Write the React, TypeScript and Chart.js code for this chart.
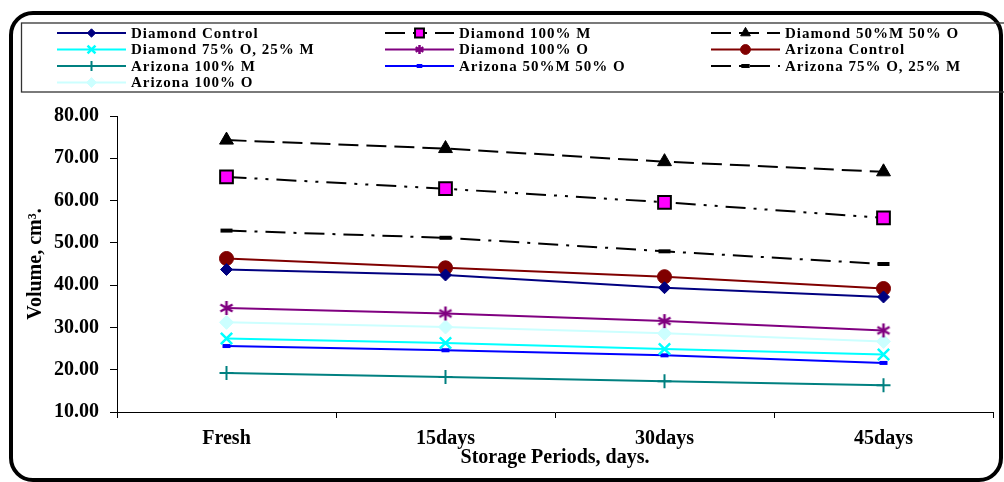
import React, { useEffect, useRef } from 'react';
import { Chart, registerables } from 'chart.js';
import { drawPoint } from 'chart.js/helpers';

Chart.register(...registerables);

const categories = ['Fresh', '15days', '30days', '45days'];

const diamondControl = [43.7, 42.4, 39.4, 37.2];
const diamond100M = [65.6, 62.8, 59.6, 55.9];
const diamond50M50O = [74.3, 72.3, 69.2, 66.8];
const diamond75O25M = [27.4, 26.3, 24.9, 23.6];
const diamond100O = [34.6, 33.3, 31.5, 29.3];
const arizonaControl = [46.3, 44.1, 42.0, 39.2];
const arizona100M = [19.2, 18.3, 17.3, 16.3];
const arizona50M50O = [25.6, 24.6, 23.4, 21.6];
const arizona75O25M = [52.9, 51.2, 48.0, 45.0];
const arizona100O = [31.2, 30.1, 28.6, 26.7];

const yMin = 10;
const yMax = 80;
const yStep = 10;

const FONT = '"Liberation Serif", "Times New Roman", serif';

const legendCols = [57, 385, 711];
const legendRows = [33, 49.5, 66, 82.5];

function makeAsterisk(size: number, color: string, lw: number) {
  const c = document.createElement('canvas');
  c.width = size;
  c.height = size;
  const g = c.getContext('2d')!;
  const m = size / 2;
  const r = size / 2 - 1;
  g.strokeStyle = color;
  g.lineWidth = lw;
  g.beginPath();
  g.moveTo(m, m - r);
  g.lineTo(m, m + r);
  const dx = r * Math.cos(Math.PI / 6);
  const dy = r * Math.sin(Math.PI / 6);
  g.moveTo(m - dx, m - dy);
  g.lineTo(m + dx, m + dy);
  g.moveTo(m - dx, m + dy);
  g.lineTo(m + dx, m - dy);
  g.stroke();
  return c;
}

const framePlugin = {
  id: 'frameAndLegend',
  beforeDraw(chart: any) {
    const ctx = chart.ctx;
    ctx.save();
    ctx.fillStyle = '#fff';
    ctx.fillRect(0, 0, chart.width, chart.height);
    ctx.restore();
  },
  afterDraw(chart: any) {
    const ctx = chart.ctx;
    ctx.save();
    ctx.strokeStyle = '#000';
    ctx.lineWidth = 4;
    ctx.beginPath();
    ctx.roundRect(11, 13, 990, 467, 22);
    ctx.stroke();
    ctx.strokeStyle = '#333';
    ctx.lineWidth = 1.3;
    ctx.strokeRect(21.5, 23, 1000, 69);
    chart.data.datasets.forEach((ds: any, i: number) => {
      const col = i % 3;
      const row = Math.floor(i / 3);
      const x0 = legendCols[col];
      const x1 = x0 + 69;
      const y = legendRows[row];
      ctx.strokeStyle = ds.borderColor;
      ctx.lineWidth = ds.borderWidth;
      ctx.setLineDash(ds.borderDash || []);
      ctx.beginPath();
      ctx.moveTo(x0, y);
      ctx.lineTo(x1, y);
      ctx.stroke();
      ctx.setLineDash([]);
      ctx.fillStyle = ds.pointBackgroundColor;
      ctx.strokeStyle = ds.pointBorderColor;
      ctx.lineWidth = ds.pointBorderWidth;
      const ps = ds.legendPointStyle ?? ds.pointStyle;
      drawPoint(
        ctx,
        {
          pointStyle: ps,
          radius: ds.pointRadius * 0.7,
          rotation: 0,
          borderWidth: ds.pointBorderWidth,
        } as any,
        (x0 + x1) / 2,
        y
      );
      ctx.fillStyle = '#000';
      ctx.font = 'bold 15px ' + FONT;
      (ctx as any).letterSpacing = '1px';
      ctx.textBaseline = 'middle';
      ctx.textAlign = 'left';
      ctx.fillText(ds.label, x1 + 5, y + 1);
      (ctx as any).letterSpacing = '0px';
    });
    ctx.restore();
  },
};

function series(
  label: string,
  data: number[],
  color: string,
  pointStyle: any,
  radius: number,
  opts: any = {}
) {
  return {
    label,
    data,
    borderColor: color,
    backgroundColor: color,
    borderWidth: 2,
    pointStyle,
    legendPointStyle: opts.legendPointStyle,
    pointRadius: radius,
    pointHoverRadius: radius,
    pointBackgroundColor: opts.fill ?? color,
    pointBorderColor: opts.pointBorder ?? color,
    pointBorderWidth: opts.pointBorderWidth ?? 2,
    borderDash: opts.dash ?? [],
    fill: false,
    tension: 0,
  };
}

export default function App() {
  const ref = useRef<HTMLCanvasElement>(null);

  useEffect(() => {
    if (!ref.current) return;
    const asterisk = makeAsterisk(16, '#800080', 2.5);
    const asteriskSmall = makeAsterisk(11, '#800080', 2.5);
    const chart = new Chart(ref.current, {
      type: 'line',
      data: {
        labels: categories,
        datasets: [
          series('Diamond Control', diamondControl, '#000080', 'rectRot', 6, { pointBorderWidth: 1 }),
          series('Diamond 100% M', diamond100M, '#000000', 'rect', 9, {
            fill: '#FF00FF',
            pointBorder: '#000000',
            pointBorderWidth: 2,
            dash: [20, 8, 3, 8, 3, 8],
          }),
          series('Diamond 50%M 50% O', diamond50M50O, '#000000', 'triangle', 8, {
            pointBorderWidth: 1,
            dash: [20, 8],
          }),
          series('Diamond 75% O, 25% M', diamond75O25M, '#00FFFF', 'crossRot', 8, { pointBorderWidth: 2.5 }),
          series('Diamond 100% O', diamond100O, '#800080', asterisk, 8, {
            pointBorderWidth: 2.5,
            legendPointStyle: asteriskSmall,
          }),
          series('Arizona Control', arizonaControl, '#800000', 'circle', 7, { pointBorderWidth: 1 }),
          series('Arizona 100% M', arizona100M, '#008080', 'cross', 7, { pointBorderWidth: 2 }),
          series('Arizona 50%M 50% O', arizona50M50O, '#0000FF', 'line', 4, { pointBorderWidth: 4 }),
          series('Arizona 75% O, 25% M', arizona75O25M, '#000000', 'line', 6, {
            pointBorderWidth: 4,
            dash: [20, 8, 3, 8],
          }),
          series('Arizona 100% O', arizona100O, '#CCFFFF', 'rectRot', 7, { pointBorderWidth: 1 }),
        ],
      },
      options: {
        animation: false,
        responsive: false,
        maintainAspectRatio: false,
        devicePixelRatio: 1,
        layout: { padding: { top: 116, left: 24, right: 9, bottom: 14 } },
        plugins: {
          legend: { display: false },
          tooltip: { enabled: false },
          title: { display: false },
        },
        scales: {
          x: {
            type: 'category',
            offset: true,
            grid: {
              offset: true,
              drawOnChartArea: false,
              drawTicks: true,
              tickLength: 6,
              color: '#000',
            },
            border: { color: '#000', width: 1 },
            ticks: {
              color: '#000',
              padding: 11,
              font: { family: FONT, size: 20, weight: 'bold', lineHeight: 1.0 },
            },
            title: {
              display: true,
              text: 'Storage Periods, days.',
              color: '#000',
              padding: { top: -12, bottom: 0 },
              font: { family: FONT, size: 20, weight: 'bold', lineHeight: 1.0 },
            },
          },
          y: {
            min: yMin,
            max: yMax,
            afterFit(scale: any) {
              scale.width = 93;
            },
            grid: {
              drawOnChartArea: false,
              drawTicks: true,
              tickLength: 7,
              color: '#000',
            },
            border: { color: '#000', width: 1 },
            ticks: {
              stepSize: yStep,
              color: '#000',
              padding: 11,
              font: { family: FONT, size: 20, weight: 'bold' },
              callback: (v: any) => Number(v).toFixed(2),
            },
            title: {
              display: true,
              text: 'Volume, cm³.',
              color: '#000',
              padding: 0,
              font: { family: FONT, size: 20, weight: 'bold' },
            },
          },
        },
      } as any,
      plugins: [framePlugin],
    });
    return () => chart.destroy();
  }, []);

  return (
    <div style={{ position: 'absolute', left: 0, top: 0, width: 1004, height: 482 }}>
      <canvas ref={ref} width={1004} height={482} style={{ display: 'block' }} />
    </div>
  );
}
